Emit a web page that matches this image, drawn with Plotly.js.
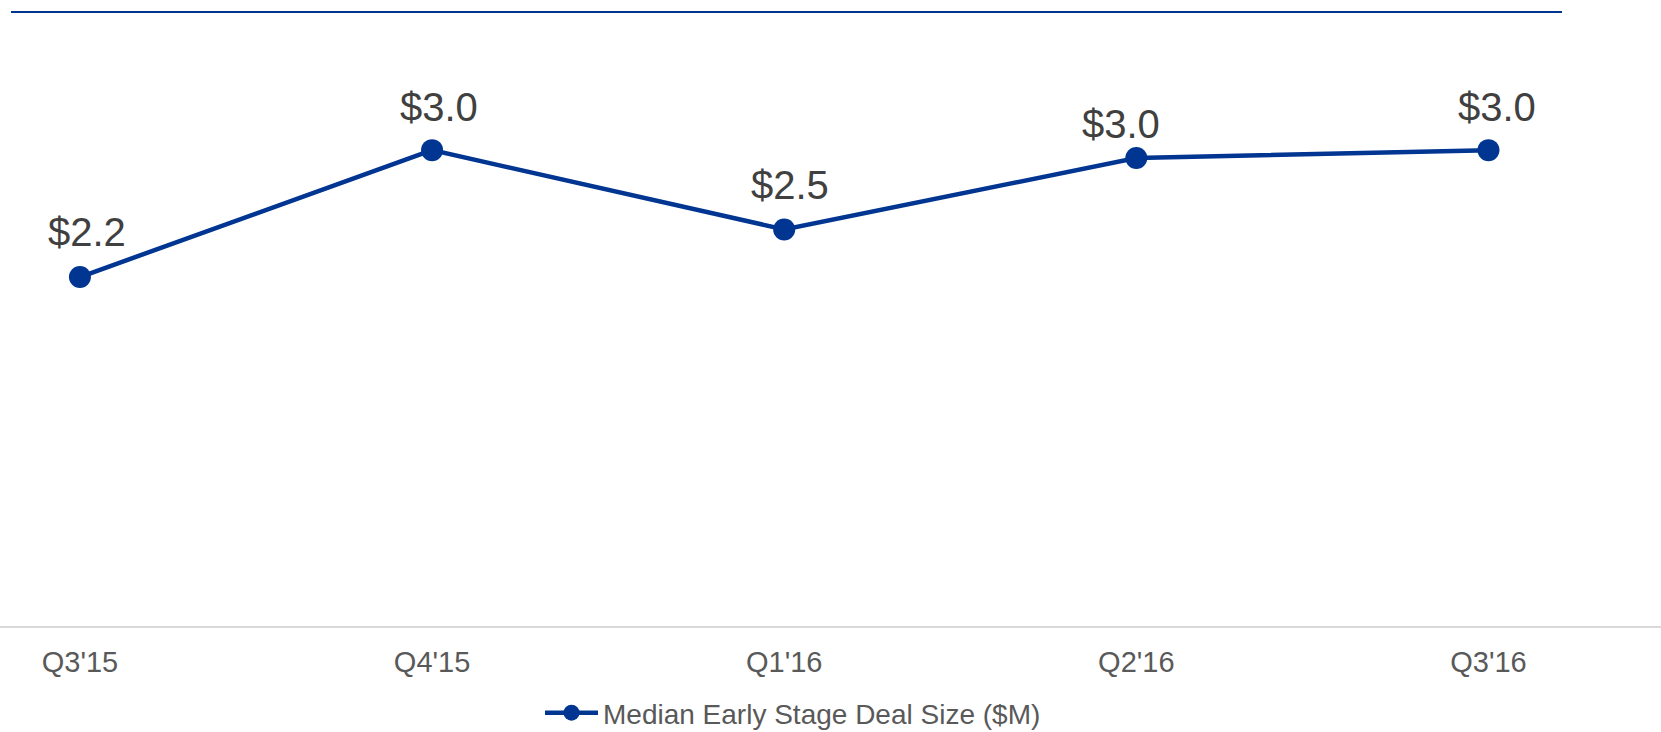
<!DOCTYPE html>
<html>
<head>
<meta charset="utf-8">
<script src="https://cdn.plot.ly/plotly-3.0.1.min.js"></script>
<style>html,body{margin:0;padding:0;background:#fff;}#chart{width:1661px;height:732px;}</style>
</head>
<body>
<div id="chart"></div>
<script>
// ---- data ----
var quarters = ["Q3'15", "Q4'15", "Q1'16", "Q2'16", "Q3'16"];
var medianDealSize = [2.2, 3.0, 2.5, 2.95, 3.0];
var valueLabels = ["$2.2", "$3.0", "$2.5", "$3.0", "$3.0"];
var seriesName = "Median Early Stage Deal Size ($M)";

// ---- label placement tweaks (style, px) ----
var labelDx = [7, 7, 6, -15, 9];
var labelDy = [29, 27, 28, 18, 27];

var BLUE = "#003591";
var FONT = "Liberation Sans, Arial, sans-serif";

var trace = {
  x: quarters,
  y: medianDealSize,
  type: "scatter",
  mode: "lines+markers",
  name: seriesName,
  line: {color: BLUE, width: 4.5},
  marker: {color: BLUE, size: 22},
  hoverinfo: "x+y"
};

var annotations = quarters.map(function (q, i) {
  return {
    x: q, y: medianDealSize[i], xref: "x", yref: "y",
    text: valueLabels[i], showarrow: false,
    xanchor: "center", yanchor: "bottom",
    xshift: labelDx[i], yshift: labelDy[i] - 8,
    font: {family: FONT, size: 40, color: "#404040"}
  };
});

var TOP = 2, BOTTOM = 106, H = 732 - TOP - BOTTOM;

var layout = {
  width: 1661, height: 732,
  margin: {l: 0, r: 0, t: TOP, b: BOTTOM, autoexpand: false},
  paper_bgcolor: "#fff", plot_bgcolor: "#fff",
  showlegend: true,
  font: {family: FONT},
  xaxis: {
    type: "category",
    range: [-0.227, 4.49],
    showgrid: false, zeroline: false,
    showline: true, linecolor: "#d9d9d9", linewidth: 2,
    ticks: "", ticklabelstandoff: 9,
    tickfont: {family: FONT, size: 29, color: "#595959"},
    fixedrange: true
  },
  yaxis: {
    range: [0, 3.934],
    visible: false,
    showgrid: false, zeroline: false,
    fixedrange: true
  },
  legend: {
    orientation: "h",
    x: 540 / 1661, xanchor: "left",
    y: -(738 - 626) / H, yanchor: "bottom",
    font: {family: FONT, size: 28, color: "#595959"},
    itemwidth: 53,
    bgcolor: "rgba(0,0,0,0)"
  },
  shapes: [{
    type: "line", xref: "paper", yref: "paper",
    x0: 11 / 1661, x1: 1562 / 1661,
    y0: (732 - BOTTOM - 12) / H, y1: (732 - BOTTOM - 12) / H,
    line: {color: BLUE, width: 2}
  }],
  annotations: annotations
};

Plotly.newPlot("chart", [trace], layout, {displayModeBar: false, staticPlot: true});
</script>
</body>
</html>
